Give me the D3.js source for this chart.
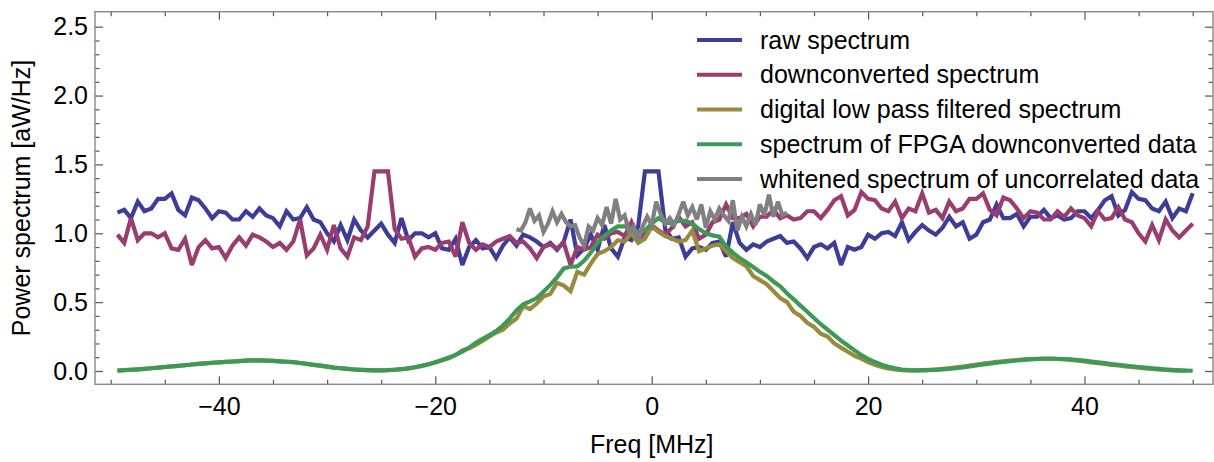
<!DOCTYPE html>
<html>
<head>
<meta charset="utf-8">
<script src="https://cdn.jsdelivr.net/npm/d3@7"></script>
<style>
  body { margin: 0; background: #fff; }
  svg text { font-family: "Liberation Sans", Arial, Helvetica, sans-serif; }
</style>
</head>
<body>
<svg id="chart" width="1214" height="462"></svg>
<script>
// frequency grid of the spectra (MHz)
const freqStart = -49.375;
const freqStep = 0.625;

// raw spectrum [aW/Hz]
const rawSpectrum = [
  1.15,1.17,1.11,1.23,1.16,1.18,1.25,1.25,1.29,1.17,1.13,1.26,1.24,1.18,1.11,1.16,1.15,1.10,1.10,1.16,
  1.12,1.18,1.13,1.11,1.05,1.16,1.10,1.11,1.19,1.10,1.08,1.00,0.94,1.06,0.95,1.10,1.02,0.97,1.02,1.07,
  0.99,0.93,1.11,0.95,1.00,1.00,0.97,1.00,0.89,0.88,0.96,0.77,0.90,0.95,0.89,0.90,0.82,0.91,0.97,0.91,
  0.99,0.97,0.94,0.90,0.93,0.88,0.94,1.10,0.84,0.89,0.99,0.88,1.06,0.89,0.83,0.97,0.95,1.05,
  1.45,1.45,1.45,1.03,0.96,0.97,
  0.83,0.89,0.90,0.88,0.93,0.94,0.83,1.08,0.93,0.88,0.92,0.90,0.94,0.96,0.98,0.93,0.94,0.89,0.82,0.90,
  0.92,0.89,0.93,0.77,0.90,0.88,0.90,0.99,0.96,1.00,1.01,0.98,1.08,0.95,1.01,1.06,1.02,0.99,1.04,1.12,
  1.05,1.08,0.96,
  0.99,1.08,1.10,1.21,1.11,1.11,1.14,1.05,1.12,1.12,1.17,1.11,1.13,1.10,1.11,1.16,1.16,1.11,1.17,1.24,
  1.27,1.13,1.17,1.30,1.25,1.24,1.18,1.16,1.23,1.11,1.18,1.16,1.29
];

// downconverted spectrum
const downSpectrum = [
  0.99,0.93,1.11,0.95,1.00,1.00,0.97,1.00,0.89,0.88,0.96,0.77,0.90,0.95,0.89,0.90,0.82,0.91,0.97,0.91,
  0.99,0.97,0.94,0.90,0.93,0.88,0.94,1.10,0.84,0.89,0.99,0.88,1.06,0.89,0.83,0.97,0.95,1.05,
  1.45,1.45,1.45,1.03,0.96,0.97,
  0.83,0.89,0.90,0.88,0.93,0.94,0.83,1.08,0.93,0.88,0.92,0.90,0.94,0.96,0.98,0.93,0.94,0.89,0.82,0.90,
  0.92,0.89,0.93,0.77,0.90,0.88,0.90,0.99,0.96,1.00,1.01,0.98,1.08,0.95,1.01,1.06,1.02,0.99,1.04,1.12,
  1.05,1.08,0.96,
  0.99,1.08,1.10,1.21,1.11,1.11,1.14,1.05,1.12,1.12,1.17,1.11,1.13,1.10,1.11,1.16,1.16,1.11,1.17,1.24,
  1.27,1.13,1.17,1.30,1.25,1.24,1.18,1.16,1.23,1.11,1.18,1.16,1.29,
  1.15,1.17,1.11,1.23,1.16,1.18,1.25,1.25,1.29,1.17,1.13,1.26,1.24,1.18,1.11,1.16,1.15,1.10,1.10,1.16,
  1.12,1.18,1.13,1.11,1.05,1.16,1.10,1.11,1.19,1.10,1.08,1.00,0.94,1.06,0.95,1.10,1.02,0.97,1.02,1.07
];

// digital low pass filtered spectrum
const lowPassSpectrum = [
  0.003,0.006,0.009,0.012,0.016,0.020,0.024,0.029,0.033,0.037,0.042,0.047,0.052,0.056,0.060,0.063,
  0.066,0.069,0.072,0.075,0.077,0.077,0.076,0.073,0.070,0.067,0.064,0.058,0.052,0.045,0.039,0.032,
  0.025,0.020,0.015,0.011,0.008,0.006,0.005,0.005,0.006,0.009,0.013,0.019,0.027,0.037,0.049,
  0.062,0.078,0.092,0.115,0.150,0.165,0.190,0.220,0.250,0.280,0.300,0.345,0.380,0.470,0.450,0.490,
  0.540,0.560,0.640,0.620,0.580,0.720,0.700,0.780,0.850,0.870,0.900,0.950,0.940,1.000,0.930,0.960,
  1.050,1.010,0.980,0.960,0.940,0.950,1.020,0.870,0.890,0.910,0.920,0.870,0.820,0.790,0.760,0.690,
  0.660,0.630,0.580,0.530,0.500,0.430,0.400,0.350,0.320,0.270,0.250,0.200,0.170,0.140,0.110,0.090,
  0.065,0.045,0.030,0.019,0.011,0.007,0.005,0.005,0.006,0.008,0.011,0.015,0.020,0.026,0.033,0.040,
  0.047,0.054,0.060,0.066,0.071,0.076,0.080,0.084,0.087,0.089,0.090,0.089,0.087,0.084,0.080,0.075,
  0.069,0.063,0.057,0.051,0.045,0.040,0.034,0.029,0.024,0.019,0.015,0.011,0.008,0.005,0.003,0.002
];

// spectrum of FPGA downconverted data
const fpgaSpectrum = [
  0.003,0.006,0.009,0.012,0.016,0.020,0.024,0.029,0.033,0.037,0.042,0.047,0.052,0.056,0.060,0.063,
  0.066,0.069,0.072,0.075,0.077,0.077,0.076,0.073,0.070,0.067,0.064,0.058,0.052,0.045,0.039,0.032,
  0.025,0.020,0.015,0.011,0.008,0.006,0.005,0.005,0.006,0.009,0.013,0.019,0.027,0.037,0.049,
  0.064,0.080,0.098,0.117,0.140,0.170,0.205,0.233,0.260,0.290,0.330,0.380,0.440,0.485,0.505,0.530,
  0.575,0.625,0.680,0.745,0.757,0.760,0.800,0.860,0.930,0.980,1.020,1.050,1.050,1.030,1.010,1.020,
  1.070,1.110,1.080,1.070,1.090,1.090,1.070,1.030,1.000,0.985,0.975,0.905,0.860,0.820,0.790,0.755,
  0.720,0.690,0.650,0.615,0.565,0.520,0.475,0.430,0.385,0.340,0.300,0.260,0.220,0.185,0.150,0.115,
  0.088,0.065,0.045,0.030,0.019,0.011,0.007,0.005,0.005,0.006,0.008,0.011,0.015,0.020,0.026,0.033,
  0.040,0.047,0.054,0.060,0.066,0.071,0.076,0.080,0.084,0.087,0.089,0.090,0.089,0.087,0.084,0.080,
  0.075,0.069,0.063,0.057,0.051,0.045,0.040,0.034,0.029,0.024,0.019,0.015,0.011,0.008,0.005,0.003,0.002
];

// whitened spectrum of uncorrelated data (finer grid, centre band only)
const whiteStart = -12.5;
const whiteStep = 25 / 60;
const whitenedSpectrum = [
  1.03,1.02,1.08,1.18,1.09,1.13,1.01,1.07,1.16,1.08,1.14,1.08,1.05,1.06,0.97,0.91,1.05,1.02,1.11,1.06,
  1.19,1.07,1.25,1.10,1.13,1.01,1.05,0.95,1.05,1.12,1.06,1.23,1.14,1.07,1.11,1.06,1.14,1.23,1.13,1.19,
  1.10,1.21,1.04,1.16,1.10,1.18,1.13,1.09,1.24,1.02,1.12,1.05,1.14,1.06,1.21,1.13,1.28,1.12,1.23,1.13,1.15
];

const seriesNames = [
  'raw spectrum',
  'downconverted spectrum',
  'digital low pass filtered spectrum',
  'spectrum of FPGA downconverted data',
  'whitened spectrum of uncorrelated data'
];
const seriesColors = ['#3d3d99', '#993d71', '#998b3d', '#3d9956', '#808080'];

const xMajorTicks = [-40, -20, 0, 20, 40];
const xMinorTicks = [-50, -45, -35, -30, -25, -15, -10, -5, 5, 10, 15, 25, 30, 35, 45, 50];
const yMajorTicks = [0, 0.5, 1.0, 1.5, 2.0, 2.5];

const xTitle = 'Freq [MHz]';
const yTitle = 'Power spectrum [aW/Hz]';

// ---- layout ----
const svg = d3.select('#chart');
const frame = { left: 95, right: 1213, top: 11.7, bottom: 384.3 };
const x = d3.scaleLinear().domain([-50, 50]).range([110.7, 1192.7]);
const y = d3.scaleLinear().domain([0, 2.5]).range([371, 26.7]);
const fontSize = 25;

const yMinorTicks = d3.range(1, 26).map(i => i / 10).filter(v => Math.abs(v * 2 - Math.round(v * 2)) > 1e-6);

svg.append('rect').attr('width', 1214).attr('height', 462).attr('fill', '#fff');

svg.append('defs').append('clipPath').attr('id', 'plotclip')
  .append('rect')
  .attr('x', frame.left).attr('y', frame.top)
  .attr('width', frame.right - frame.left).attr('height', frame.bottom - frame.top);

const toPoints = (vals, start, step) => vals.map((v, i) => [start + i * step, v]);
const series = [
  toPoints(rawSpectrum, freqStart, freqStep),
  toPoints(downSpectrum, freqStart, freqStep),
  toPoints(lowPassSpectrum, freqStart, freqStep),
  toPoints(fpgaSpectrum, freqStart, freqStep),
  toPoints(whitenedSpectrum, whiteStart, whiteStep)
];

const line = d3.line().x(d => x(d[0])).y(d => y(d[1]));

svg.append('g').attr('clip-path', 'url(#plotclip)')
  .selectAll('path').data(series).enter()
  .append('path')
  .attr('d', line)
  .attr('fill', 'none')
  .attr('stroke', (d, i) => seriesColors[i])
  .attr('stroke-width', 4.2)
  .attr('stroke-linejoin', 'miter')
  .attr('stroke-miterlimit', 3);

// ---- axes (ticks point inward on all four sides) ----
const tickColor = '#555';
function styleAxis(g) {
  g.select('.domain').remove();
  g.selectAll('.tick line').attr('stroke', tickColor).attr('stroke-width', 1.2);
  g.selectAll('.tick text').attr('fill', '#000').attr('font-size', fontSize);
}

svg.append('g').attr('transform', `translate(0,${frame.bottom})`)
  .call(d3.axisBottom(x).tickValues(xMajorTicks).tickSize(-8).tickPadding(13))
  .call(styleAxis);
svg.append('g').attr('transform', `translate(0,${frame.bottom})`)
  .call(d3.axisBottom(x).tickValues(xMinorTicks).tickSize(-4.5).tickFormat(''))
  .call(styleAxis);
svg.append('g').attr('transform', `translate(0,${frame.top})`)
  .call(d3.axisTop(x).tickValues(xMajorTicks).tickSize(-8).tickFormat(''))
  .call(styleAxis);
svg.append('g').attr('transform', `translate(0,${frame.top})`)
  .call(d3.axisTop(x).tickValues(xMinorTicks).tickSize(-4.5).tickFormat(''))
  .call(styleAxis);

svg.append('g').attr('transform', `translate(${frame.left},0)`)
  .call(d3.axisLeft(y).tickValues(yMajorTicks).tickSize(-8).tickPadding(7).tickFormat(d3.format('.1f')))
  .call(styleAxis);
svg.append('g').attr('transform', `translate(${frame.left},0)`)
  .call(d3.axisLeft(y).tickValues(yMinorTicks).tickSize(-4.5).tickFormat(''))
  .call(styleAxis);
svg.append('g').attr('transform', `translate(${frame.right},0)`)
  .call(d3.axisRight(y).tickValues(yMajorTicks).tickSize(-8).tickFormat(''))
  .call(styleAxis);
svg.append('g').attr('transform', `translate(${frame.right},0)`)
  .call(d3.axisRight(y).tickValues(yMinorTicks).tickSize(-4.5).tickFormat(''))
  .call(styleAxis);

// frame
svg.append('rect')
  .attr('x', frame.left).attr('y', frame.top)
  .attr('width', frame.right - frame.left).attr('height', frame.bottom - frame.top)
  .attr('fill', 'none').attr('stroke', '#888').attr('stroke-width', 1.4);

// axis titles
svg.append('text')
  .attr('x', x(0)).attr('y', 453)
  .attr('text-anchor', 'middle').attr('font-size', fontSize).attr('fill', '#000')
  .text(xTitle);
svg.append('text')
  .attr('transform', `translate(29.5,${(frame.top + frame.bottom) / 2}) rotate(-90)`)
  .attr('text-anchor', 'middle').attr('font-size', fontSize).attr('fill', '#000')
  .text(yTitle);

// ---- legend ----
const legendRowY = [40, 74.75, 109.5, 144.25, 179];
const legend = svg.append('g');
const rows = legend.selectAll('g').data(seriesNames).enter().append('g')
  .attr('transform', (d, i) => `translate(0,${legendRowY[i]})`);
rows.append('line')
  .attr('x1', 697).attr('x2', 742).attr('y1', 0).attr('y2', 0)
  .attr('stroke', (d, i) => seriesColors[i]).attr('stroke-width', 4.2);
rows.append('text')
  .attr('x', 760).attr('y', 8.5)
  .attr('font-size', fontSize).attr('fill', '#000')
  .text(d => d);
</script>
</body>
</html>
